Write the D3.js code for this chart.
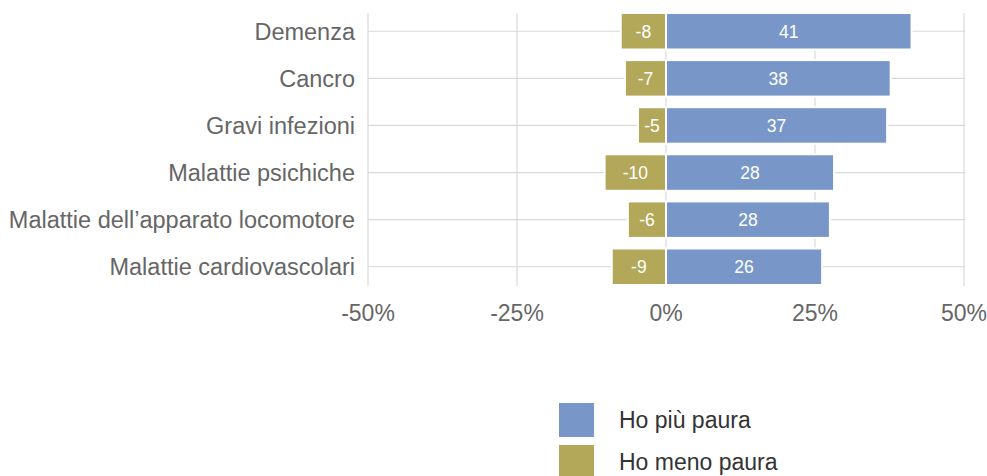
<!DOCTYPE html>
<html>
<head>
<meta charset="utf-8">
<script src="https://cdn.jsdelivr.net/npm/d3@7"></script>
<style>
    body { margin: 0; background: #fff; font-family: "Liberation Sans", Arial, sans-serif; }
    svg { display: block; }
</style>
</head>
<body>
<div id="plot"></div>
<script>
const categories = [
    "Demenza",
    "Cancro",
    "Gravi infezioni",
    "Malattie psichiche",
    "Malattie dell’apparato locomotore",
    "Malattie cardiovascolari"
];
const piuPaura = [41.2, 37.7, 37.1, 28.2, 27.5, 26.2];
const menoPaura = [-7.6, -6.9, -4.7, -10.3, -6.4, -9.1];
const xTicks = [-50, -25, 0, 25, 50];
const seriesNames = ["Ho più paura", "Ho meno paura"];
const colors = ["#7897c8", "#b3a85a"];

const width = 987;
const height = 476;

const svg = d3.select("#plot")
    .append("svg")
    .attr("width", width)
    .attr("height", height);

const x = d3.scaleLinear()
    .domain([-50, 50])
    .range([368, 964]);

const y = d3.scaleBand()
    .domain(categories)
    .range([13, 285])
    .paddingInner(0.225)
    .paddingOuter(0);

const gridColor = "#d9d9d9";
const center = d => y(d) + y.bandwidth() / 2;

// horizontal grid lines through each row
svg.append("g")
    .selectAll("line")
    .data(categories)
    .join("line")
    .attr("x1", x(-50))
    .attr("x2", x(50) + 1)
    .attr("y1", d => center(d))
    .attr("y2", d => center(d))
    .attr("stroke", gridColor)
    .attr("stroke-width", 1.2);

// vertical grid lines
svg.append("g")
    .selectAll("line")
    .data(xTicks)
    .join("line")
    .attr("x1", d => x(d))
    .attr("x2", d => x(d))
    .attr("y1", 13)
    .attr("y2", 286)
    .attr("stroke", gridColor)
    .attr("stroke-width", 1.2);

const rows = categories.map((c, i) => ({ cat: c, piu: piuPaura[i], meno: menoPaura[i] }));

// bars
const bars = [
    ...rows.map(r => ({ cat: r.cat, v: r.piu, k: 0 })),
    ...rows.map(r => ({ cat: r.cat, v: r.meno, k: 1 }))
];

svg.append("g")
    .selectAll("rect")
    .data(bars)
    .join("rect")
    .attr("x", d => x(Math.min(0, d.v)))
    .attr("width", d => Math.abs(x(d.v) - x(0)))
    .attr("y", d => y(d.cat))
    .attr("height", y.bandwidth())
    .attr("fill", d => colors[d.k])
    .attr("stroke", "#fff")
    .attr("stroke-width", 2);

// value labels inside bars
svg.append("g")
    .selectAll("text")
    .data(bars)
    .join("text")
    .attr("x", d => (x(d.v) + x(0)) / 2)
    .attr("y", d => center(d.cat))
    .attr("dy", "0.36em")
    .attr("text-anchor", "middle")
    .attr("fill", "#fff")
    .style("font-size", "17.5px")
    .text(d => Math.round(d.v));

// category labels
svg.append("g")
    .selectAll("text")
    .data(categories)
    .join("text")
    .attr("x", x(-50) - 13)
    .attr("y", d => center(d))
    .attr("dy", "0.36em")
    .attr("text-anchor", "end")
    .attr("fill", "#666")
    .style("font-size", "23.5px")
    .text(d => d);

// x tick labels
svg.append("g")
    .selectAll("text")
    .data(xTicks)
    .join("text")
    .attr("x", d => x(d))
    .attr("y", 321)
    .attr("text-anchor", "middle")
    .attr("fill", "#666")
    .style("font-size", "23px")
    .text(d => d + "%");

// legend
const legend = svg.append("g")
    .selectAll("g")
    .data(seriesNames)
    .join("g")
    .attr("transform", (d, i) => `translate(559,${403 + i * 42})`);

legend.append("rect")
    .attr("width", 35)
    .attr("height", 34)
    .attr("fill", (d, i) => colors[i]);

legend.append("text")
    .attr("x", 60)
    .attr("y", 17)
    .attr("dy", "0.36em")
    .attr("fill", "#333")
    .style("font-size", "23px")
    .text(d => d);
</script>
</body>
</html>
